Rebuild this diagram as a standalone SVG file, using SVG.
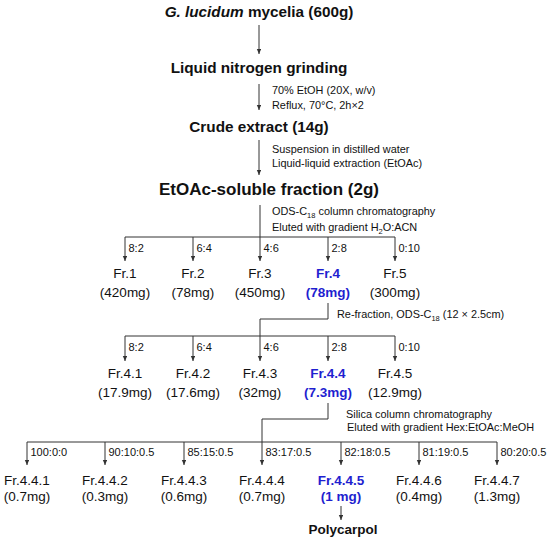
<svg xmlns="http://www.w3.org/2000/svg" width="550" height="543" viewBox="0 0 550 543">
<style>
text{font-family:"Liberation Sans",Arial,sans-serif;fill:#111}
.h{font-weight:bold;font-size:15.3px;text-anchor:middle}
.n{font-size:13.5px;text-anchor:middle}
.b{font-size:13.5px;text-anchor:middle;font-weight:bold;fill:#1f1fd0}
.r{font-size:11px}
.a{font-size:10.9px}
.s{font-size:7.5px}
line,polyline{stroke:#333;stroke-width:1;fill:none}
</style>
<defs>
<marker id="ar" markerUnits="userSpaceOnUse" markerWidth="6" markerHeight="6" refX="5" refY="2.2" orient="auto">
<path d="M0,0 L5,2.2 L0,4.4 z" fill="#333"/>
</marker>
</defs>
<rect width="550" height="543" fill="#fff"/>
<g id="connectors">
<line x1="259" y1="25" x2="259" y2="54" marker-end="url(#ar)"/>
<line x1="259" y1="84" x2="259" y2="110" marker-end="url(#ar)"/>
<line x1="259" y1="140" x2="259" y2="175" marker-end="url(#ar)"/>
<line x1="260" y1="205" x2="260" y2="237"/>
<line x1="125" y1="237" x2="395" y2="237"/>
<line x1="125" y1="237" x2="125" y2="261" marker-end="url(#ar)"/>
<line x1="193" y1="237" x2="193" y2="261" marker-end="url(#ar)"/>
<line x1="260" y1="237" x2="260" y2="261" marker-end="url(#ar)"/>
<line x1="328" y1="237" x2="328" y2="261" marker-end="url(#ar)"/>
<line x1="395" y1="237" x2="395" y2="261" marker-end="url(#ar)"/>
<polyline points="328,303 328,319 260,319 260,336"/>
<line x1="125" y1="336" x2="395" y2="336"/>
<line x1="125" y1="336" x2="125" y2="361" marker-end="url(#ar)"/>
<line x1="193" y1="336" x2="193" y2="361" marker-end="url(#ar)"/>
<line x1="260" y1="336" x2="260" y2="361" marker-end="url(#ar)"/>
<line x1="328" y1="336" x2="328" y2="361" marker-end="url(#ar)"/>
<line x1="395" y1="336" x2="395" y2="361" marker-end="url(#ar)"/>
<polyline points="328,403 328,419 262,419 262,442"/>
<line x1="27" y1="442" x2="497" y2="442"/>
<line x1="27" y1="442" x2="27" y2="465" marker-end="url(#ar)"/>
<line x1="105" y1="442" x2="105" y2="465" marker-end="url(#ar)"/>
<line x1="184" y1="442" x2="184" y2="465" marker-end="url(#ar)"/>
<line x1="262" y1="442" x2="262" y2="465" marker-end="url(#ar)"/>
<line x1="341" y1="442" x2="341" y2="465" marker-end="url(#ar)"/>
<line x1="419" y1="442" x2="419" y2="465" marker-end="url(#ar)"/>
<line x1="497" y1="442" x2="497" y2="465" marker-end="url(#ar)"/>
<line x1="341" y1="506" x2="341" y2="520" marker-end="url(#ar)"/>
</g>
<g id="labels">
<text class="a" x="272" y="94">70% EtOH (20X, w/v)</text>
<text class="a" x="272" y="109">Reflux, 70°C, 2h×2</text>
<text class="a" x="272" y="153">Suspension in distilled water</text>
<text class="a" x="272" y="167">Liquid-liquid extraction (EtOAc)</text>
<text class="a" x="272" y="215">ODS-C<tspan class="s" dy="2.5">18</tspan><tspan dy="-2.5"> column chromatography</tspan></text>
<text class="a" x="272" y="231">Eluted with gradient H<tspan class="s" dy="2.5">2</tspan><tspan dy="-2.5">O:ACN</tspan></text>
<text class="r" x="128.5" y="252">8:2</text>
<text class="r" x="196.5" y="252">6:4</text>
<text class="r" x="263.5" y="252">4:6</text>
<text class="r" x="331.5" y="252">2:8</text>
<text class="r" x="398.5" y="252">0:10</text>
<text class="a" x="337" y="318">Re-fraction, ODS-C<tspan class="s" dy="2.5">18</tspan><tspan dy="-2.5"> (12 × 2.5cm)</tspan></text>
<text class="r" x="128.5" y="351">8:2</text>
<text class="r" x="196.5" y="351">6:4</text>
<text class="r" x="263.5" y="351">4:6</text>
<text class="r" x="331.5" y="351">2:8</text>
<text class="r" x="398.5" y="351">0:10</text>
<text class="a" x="346" y="418">Silica column chromatography</text>
<text class="a" x="347" y="431">Eluted with gradient Hex:EtOAc:MeOH</text>
<text class="r" x="30.5" y="456">100:0:0</text>
<text class="r" x="108.5" y="456">90:10:0.5</text>
<text class="r" x="187.5" y="456">85:15:0.5</text>
<text class="r" x="265.5" y="456">83:17:0.5</text>
<text class="r" x="344.5" y="456">82:18:0.5</text>
<text class="r" x="422.5" y="456">81:19:0.5</text>
<text class="r" x="500.5" y="456">80:20:0.5</text>
</g>
<g id="n-mycelia"><text class="h" x="259" y="17"><tspan font-style="italic">G. lucidum</tspan> mycelia (600g)</text></g>
<g id="n-grinding"><text class="h" x="259" y="73">Liquid nitrogen grinding</text></g>
<g id="n-crude"><text class="h" x="259" y="132">Crude extract (14g)</text></g>
<g id="n-etoac"><text class="h" x="269" y="195" style="font-size:17px">EtOAc-soluble fraction (2g)</text></g>
<g id="n-fr1"><text class="n" x="125" y="278">Fr.1</text><text class="n" x="125" y="297">(420mg)</text></g>
<g id="n-fr2"><text class="n" x="193" y="278">Fr.2</text><text class="n" x="193" y="297">(78mg)</text></g>
<g id="n-fr3"><text class="n" x="260" y="278">Fr.3</text><text class="n" x="260" y="297">(450mg)</text></g>
<g id="n-fr4"><text class="b" x="328" y="278">Fr.4</text><text class="b" x="328" y="297">(78mg)</text></g>
<g id="n-fr5"><text class="n" x="395" y="278">Fr.5</text><text class="n" x="395" y="297">(300mg)</text></g>
<g id="n-fr41"><text class="n" x="125" y="378">Fr.4.1</text><text class="n" x="125" y="397">(17.9mg)</text></g>
<g id="n-fr42"><text class="n" x="193" y="378">Fr.4.2</text><text class="n" x="193" y="397">(17.6mg)</text></g>
<g id="n-fr43"><text class="n" x="260" y="378">Fr.4.3</text><text class="n" x="260" y="397">(32mg)</text></g>
<g id="n-fr44"><text class="b" x="328" y="378">Fr.4.4</text><text class="b" x="328" y="397">(7.3mg)</text></g>
<g id="n-fr45"><text class="n" x="395" y="378">Fr.4.5</text><text class="n" x="395" y="397">(12.9mg)</text></g>
<g id="n-fr441"><text class="n" x="27" y="485">Fr.4.4.1</text><text class="n" x="27" y="501">(0.7mg)</text></g>
<g id="n-fr442"><text class="n" x="105" y="485">Fr.4.4.2</text><text class="n" x="105" y="501">(0.3mg)</text></g>
<g id="n-fr443"><text class="n" x="184" y="485">Fr.4.4.3</text><text class="n" x="184" y="501">(0.6mg)</text></g>
<g id="n-fr444"><text class="n" x="262" y="485">Fr.4.4.4</text><text class="n" x="262" y="501">(0.7mg)</text></g>
<g id="n-fr445"><text class="b" x="341" y="485">Fr.4.4.5</text><text class="b" x="341" y="501">(1 mg)</text></g>
<g id="n-fr446"><text class="n" x="419" y="485">Fr.4.4.6</text><text class="n" x="419" y="501">(0.4mg)</text></g>
<g id="n-fr447"><text class="n" x="497" y="485">Fr.4.4.7</text><text class="n" x="497" y="501">(1.3mg)</text></g>
<g id="n-polycarpol"><text class="h" x="343" y="534" style="font-size:13.5px">Polycarpol</text></g>
</svg>
